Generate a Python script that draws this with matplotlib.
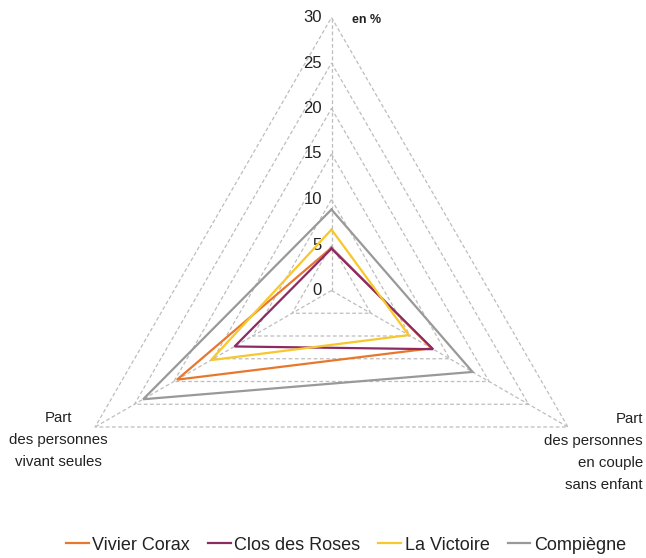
import numpy as np
import matplotlib
matplotlib.use("Agg")
import matplotlib.pyplot as plt

axes_labels = ["", "Part\ndes personnes\nen couple\nsans enfant", "Part\ndes personnes\nvivant seules"]
series_names = ["Vivier Corax", "Clos des Roses", "La Victoire", "Compiègne"]
vivier_corax = [4.7, 12.7, 19.6]
clos_des_roses = [4.6, 12.9, 12.3]
la_victoire = [6.7, 9.8, 15.3]
compiegne = [8.9, 17.9, 23.9]
ticks = [0, 5, 10, 15, 20, 25, 30]
colors = ["#E8772E", "#8E2A63", "#F7C72B", "#999999"]

plt.rcParams['font.family'] = ['Liberation Sans', 'DejaVu Sans']

W, H = 646, 558
fig = plt.figure(figsize=(W / 100, H / 100), dpi=100)
ax = fig.add_axes([0, 0, 1, 1])
scale = 9.1  # px per unit
cx, cy = 331.5, 290.5
ax.set_xlim(-cx / scale, (W - cx) / scale)
ax.set_ylim(-(H - cy) / scale, cy / scale)
ax.set_aspect('equal')
ax.axis('off')

angles = np.deg2rad([90, -30, 210])

def to_xy(vals):
    vals = np.asarray(vals, dtype=float)
    x = vals * np.cos(angles)
    y = vals * np.sin(angles)
    return np.append(x, x[0]), np.append(y, y[0])

grid_kw = dict(color="#BDBDBD", lw=0.9, ls=(0, (3, 2)), zorder=1)
for t in ticks[1:]:
    x, y = to_xy([t, t, t])
    ax.plot(x, y, **grid_kw)
for a in angles:
    ax.plot([0, ticks[-1] * np.cos(a)], [0, ticks[-1] * np.sin(a)], **grid_kw)

for t in ticks:
    ax.text(-9.5 / scale, t, str(t), ha='right', va='center', fontsize=12, color="#222222")
ax.text(20.5 / scale, ticks[-1] - 0.3, "en %", ha='left', va='center', fontsize=9, fontweight='bold', color="#222222")

data = [vivier_corax, clos_des_roses, la_victoire, compiegne]
for name, vals, c in zip(series_names, data, colors):
    x, y = to_xy(vals)
    ax.plot(x, y, color=c, lw=1.6, label=name, zorder=3, solid_joinstyle='miter')

# axis labels
ax.text((58 - cx) / scale, (cy - 440) / scale, axes_labels[2], ha='center', va='center',
        fontsize=10.8, color="#222222", linespacing=1.72)
ax.text((643 - cx) / scale, (cy - 452) / scale, axes_labels[1], ha='right', va='center',
        fontsize=10.8, color="#222222", linespacing=1.72)

leg = ax.legend(loc='center', bbox_to_anchor=(346 / W, 1 - 545 / H), ncol=4, frameon=False,
                fontsize=13, handlelength=1.25, handletextpad=0.2, columnspacing=1.0,
                borderaxespad=0)
for t in leg.get_texts():
    t.set_color("#222222")

fig.savefig("out.png", dpi=100)
